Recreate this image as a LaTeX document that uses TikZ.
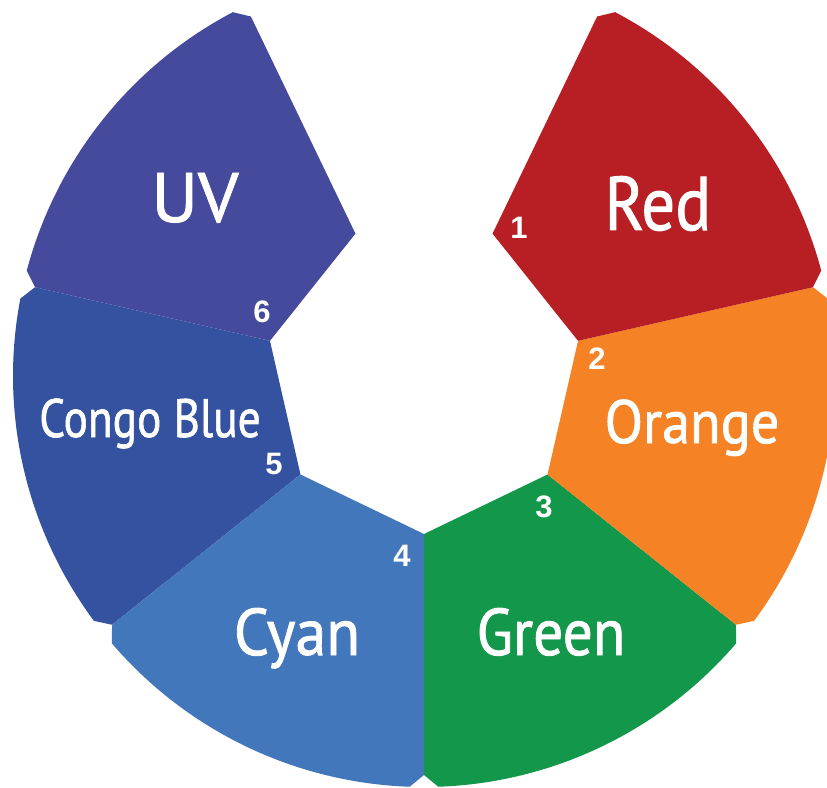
\documentclass[tikz,border=0pt]{standalone}
\usepackage{fontspec}
\setmainfont{PT Sans}
\newfontfamily\lblfont{PT Sans}[FakeBold=1.3]
\newfontfamily\numfont{Liberation Sans}[BoldFont={Liberation Sans Bold}]
\definecolor{cRed}{RGB}{183,31,36}
\definecolor{cOrange}{RGB}{245,130,36}
\definecolor{cGreen}{RGB}{19,151,74}
\definecolor{cCyan}{RGB}{67,119,187}
\definecolor{cCongo}{RGB}{52,82,160}
\definecolor{cUV}{RGB}{70,74,157}
\newcommand\wheelseg[3]{%
  \fill[#3] (#1:158) -- (#1:399) -- ({#1+2}:411)
    arc[start angle={#1+2}, end angle={#2-2}, radius=411]
    -- (#2:399) -- (#2:158) -- cycle;}
\tikzset{
  lbl/.style={text=white, inner sep=0pt, anchor=base},
  num/.style={text=white, inner sep=0pt, font=\numfont\bfseries\fontsize{31}{31}\selectfont},
}
\begin{document}
\begin{tikzpicture}[x=1pt,y=1pt]
\useasboundingbox (-424,-411) rectangle (403,376);
\clip (-424,-411) rectangle (403,376);
\wheelseg{-90}{-38.5714}{cGreen}
\wheelseg{-38.5714}{12.8571}{cOrange}
\wheelseg{12.8571}{64.2857}{cRed}
\wheelseg{115.7143}{167.1429}{cUV}
\wheelseg{167.1429}{218.5714}{cCongo}
\wheelseg{218.5714}{270}{cCyan}
\node[lbl, xscale=0.88, font=\lblfont\fontsize{76}{76}\selectfont] (red) at (234,146) {Red};
\node[lbl, xscale=0.92, font=\lblfont\fontsize{61}{61}\selectfont] (orange) at (268,-67) {Orange};
\node[lbl, xscale=0.90, font=\lblfont\fontsize{66}{66}\selectfont] (green) at (127,-279) {Green};
\node[lbl, xscale=0.94, font=\lblfont\fontsize{66}{66}\selectfont] (cyan) at (-127,-279) {Cyan};
\node[lbl, xscale=1.02, font=\lblfont\fontsize{70}{70}\selectfont] (uv) at (-229,154) {UV};
\node[lbl, xscale=0.84, font=\lblfont\fontsize{54}{54}\selectfont] (congo) at (-274,-61) {Congo Blue};
\node[num] (n1) at (95,148) {1};
\node[num] (n2) at (173,17) {2};
\node[num] (n3) at (120,-131) {3};
\node[num] (n4) at (-22,-180) {4};
\node[num] (n5) at (-150,-88) {5};
\node[num] (n6) at (-162,64) {6};
\end{tikzpicture}
\end{document}
